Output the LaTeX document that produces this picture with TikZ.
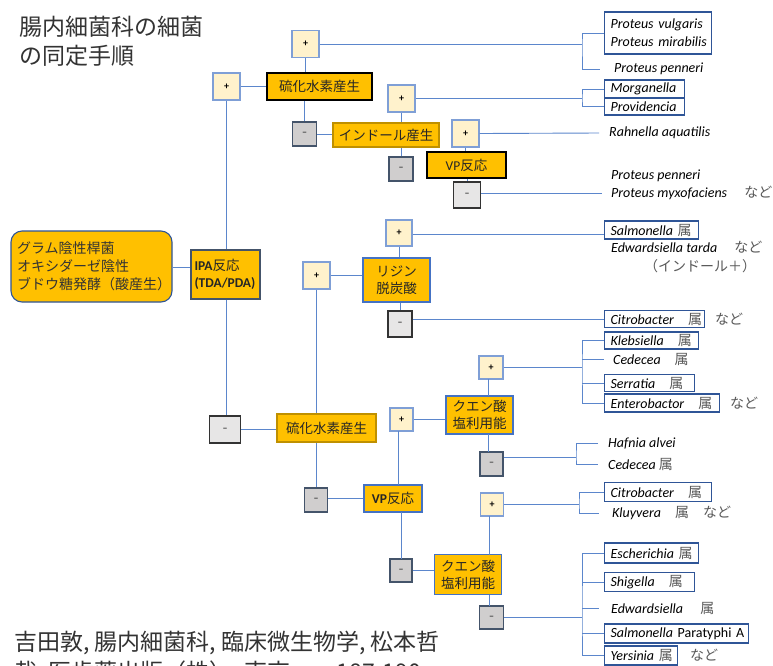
\documentclass[tikz,border=0pt]{standalone}
\usepackage{fontspec}
\setmainfont{Carlito}
\newfontfamily\jp{Noto Sans CJK JP}
\definecolor{gold}{HTML}{FFC000}
\definecolor{goldline}{HTML}{BF9000}
\definecolor{plusfill}{HTML}{FFF2CC}
\definecolor{plusborder}{HTML}{7F9FD6}
\definecolor{grayA}{HTML}{D0CECE}
\definecolor{grayB}{HTML}{E7E6E6}
\definecolor{slate}{HTML}{44546A}
\definecolor{lineblue}{HTML}{5B86CC}
\definecolor{boxblue}{HTML}{2F5597}
\definecolor{midblue}{HTML}{4472C4}
\definecolor{jpgray}{HTML}{595959}
\newcommand\JG[1]{{\upshape\jp\color{jpgray}#1}}
\tikzset{
  conn/.style={draw=lineblue, line width=0.9pt},
  gbox/.style={fill=gold, draw=#1, line width=1.1pt, inner sep=0pt, align=center,
    font=\jp\fontsize{13.5}{17}\selectfont, text=black!85},
  plusbox/.style={fill=plusfill, draw=plusborder, line width=1.1pt, minimum width=27pt,
    minimum height=27pt, inner sep=0pt, font=\bfseries\fontsize{10}{10}\selectfont},
  mboxA/.style={fill=grayA, draw=slate, line width=1.1pt, minimum width=24pt,
    minimum height=24pt, inner sep=0pt, font=\bfseries\fontsize{10}{10}\selectfont, text=black!75},
  mboxB/.style={fill=grayB, draw=black!80, line width=1.1pt, minimum width=27pt,
    minimum height=26pt, inner sep=0pt, font=\bfseries\fontsize{10}{10}\selectfont, text=black!75},
  sp/.style={anchor=west, inner xsep=0pt, inner ysep=0pt, align=left,
    font=\itshape\fontsize{14}{18}\selectfont, text=black},
  spb/.style={anchor=west, draw=boxblue, line width=1.1pt, inner xsep=6pt, inner ysep=0pt,
    align=left, font=\itshape\fontsize{14}{18}\selectfont, text=black},
}
\begin{document}
\begin{tikzpicture}[x=1pt,y=-1pt]
\useasboundingbox[fill=white] (0,0) rectangle (773,665);

% title
\node[anchor=north west, align=left, inner sep=0pt, font=\jp\fontsize{23}{29}\selectfont, text=black!80]
  (title) at (19,16) {腸内細菌科の細菌\\の同定手順};

% start and IPA
\node[fill=gold, draw=boxblue, line width=1.1pt, rounded corners=11pt, minimum width=161pt,
  minimum height=71pt, inner sep=0pt, text width=149pt, align=left,
  font=\jp\fontsize{14}{18}\selectfont, text=black!80] (start) at (91.5,266.5)
  {グラム陰性桿菌\\オキシダーゼ陰性\\\mbox{ブドウ糖発酵（酸産生）}};
\node[gbox=slate, line width=1.3pt, minimum width=69pt, minimum height=49pt, text width=62pt, align=left]
  (ipa) at (225.5,274.5) {{\rmfamily\bfseries IPA}反応\\{\rmfamily\bfseries (TDA/PDA)}};

% upper branch
\node[plusbox] (ptop) at (226.5,86.5) {+};
\node[gbox=black, line width=1.6pt, minimum width=105pt, minimum height=27pt] (hs1) at (319.5,86.5) {硫化水素産生};
\node[plusbox] (phs1) at (305.5,44) {+};
\node[mboxA] (mhs1) at (304.5,134) {–};
\node[gbox=goldline, minimum width=106pt, minimum height=24pt] (ind) at (386,135) {インドール産生};
\node[plusbox] (pind) at (401.5,98.5) {+};
\node[mboxA] (mind) at (401,169) {–};
\node[plusbox] (pvp1) at (465.5,133.5) {+};
\node[gbox=black, line width=1.5pt, minimum width=79pt, minimum height=26pt] (vp1) at (466.5,165) {{\rmfamily VP}反応};
\node[mboxB] (mvp1) at (467,195) {–};

% middle branch
\node[mboxB, minimum width=31pt, minimum height=27pt] (mipa) at (225,429.5) {–};
\node[gbox=goldline, minimum width=99pt, minimum height=28pt] (hs2) at (326.5,428) {硫化水素産生};
\node[plusbox] (pmid) at (316.5,275.5) {+};
\node[gbox=midblue, minimum width=67pt, minimum height=44pt] (lys) at (396.5,280) {リジン\\脱炭酸};
\node[plusbox, minimum width=26pt, minimum height=26pt] (plys) at (399,233) {+};
\node[mboxB, minimum width=24pt] (mlys) at (400,324) {–};

% lower branch
\node[mboxA, minimum width=23pt] (mhs2) at (316,500) {–};
\node[gbox=midblue, minimum width=58pt, minimum height=27pt] (vp2) at (393,498.5) {{\rmfamily\bfseries VP}反応};
\node[plusbox, minimum width=23pt, minimum height=23pt] (pvp2) at (401.5,419.5) {+};
\node[gbox=midblue, minimum width=67pt, minimum height=38pt] (cit1) at (479.5,415) {クエン酸\\塩利用能};
\node[plusbox, minimum width=24pt, minimum height=23pt] (pcit1) at (491,367.5) {+};
\node[mboxA, minimum width=23pt] (mcit1) at (491.5,464) {–};
\node[mboxA, minimum width=22pt, minimum height=23pt] (mvp2) at (401,570.5) {–};
\node[gbox=midblue, minimum width=67pt, minimum height=40pt] (cit2) at (468,574.5) {クエン酸\\塩利用能};
\node[plusbox, minimum width=23pt, minimum height=23pt] (pcit2) at (492,504.5) {+};
\node[mboxA, minimum width=24pt, minimum height=23pt] (mcit2) at (491.5,617.5) {–};

% species
\node[spb, minimum height=42pt, text width=95pt] (spv) at (604,33) {\mbox{Proteus vulgaris}\\\mbox{Proteus mirabilis}};
\node[sp] (spp1) at (614,69) {Proteus penneri};
\node[spb, minimum height=18pt, text width=68pt] (smorg) at (604,89) {\mbox{Morganella}};
\node[spb, minimum height=17pt, text width=68pt] (sprov) at (604,106.5) {\mbox{Providencia}};
\node[sp] (srah) at (609,133) {Rahnella aquatilis};
\node[sp] (spp2) at (611,184.5) {Proteus penneri\\Proteus myxofaciens\JG{　 など}};
\node[spb, minimum height=18pt, text width=82pt] (ssalm) at (604,230) {\mbox{Salmonella \JG{属}}};
\node[sp, font=\itshape\fontsize{14}{19}\selectfont] (sedw) at (611,256.5) {Edwardsiella tarda\JG{　 など}\\\hspace*{33pt}\JG{（インドール＋）}};
\node[spb, minimum height=17pt, text width=88pt] (scit1) at (604,319) {\mbox{Citrobacter\JG{　属}}};
\node[sp] (scit1e) at (715,319) {\JG{など}};
\node[spb, minimum height=17pt, text width=82pt] (skleb) at (604,340.5) {\mbox{Klebsiella\JG{　属}}};
\node[sp] (scede1) at (613,359) {Cedecea\JG{　属}};
\node[spb, minimum height=17pt, text width=78pt] (sserr) at (604,383) {\mbox{Serratia\JG{　属}}};
\node[spb, minimum height=18pt, text width=103pt] (sent) at (604,403) {\mbox{Enterobactor\JG{　属}}};
\node[sp] (sente) at (730,403) {\JG{など}};
\node[sp] (shaf) at (608,443) {Hafnia alvei};
\node[sp] (scede2) at (608,464) {Cedecea \JG{属}};
\node[spb, minimum height=19pt, text width=95pt] (scit2) at (604,492) {\mbox{Citrobacter\JG{　属}}};
\node[sp] (skluy) at (612,513) {Kluyvera\JG{　属　など}};
\node[spb, minimum height=20pt, text width=82pt] (sesch) at (604,553) {\mbox{Escherichia \JG{属}}};
\node[spb, minimum height=19pt, text width=78pt] (sshig) at (604,582) {\mbox{Shigella\JG{　属}}};
\node[sp] (sedw2) at (611,608) {Edwardsiella\JG{　 属}};
\node[spb, minimum height=19pt, text width=132pt] (ssalp) at (604,633.5) {\mbox{Salmonella {\upshape Paratyphi A}}};
\node[spb, minimum height=19pt, text width=61pt] (syers) at (604,655.5) {\mbox{Yersinia \JG{属}}};
\node[sp] (syerse) at (690,655) {\JG{など}};

% citation (cut by the lower edge, as in the reference)
\begin{scope}
\clip (0,600) rectangle (773,665);
\node[anchor=base west, inner sep=0pt, font=\jp\fontsize{23}{29}\selectfont, text=black!80]
  (cite1) at (14,650) {吉田敦, 腸内細菌科,  臨床微生物学, 松本哲};
\node[anchor=base west, inner sep=0pt, font=\jp\fontsize{23}{29}\selectfont, text=black!80]
  (cite2) at (14,680) {哉, 医歯薬出版（株）,  東京, pp.187-190};
\end{scope}

% bracket coordinates
\coordinate (b1) at (582,44);
\coordinate (b2) at (582,98.5);
\coordinate (b3) at (582,367.5);
\coordinate (b4) at (576,457);
\coordinate (b5) at (579,504.5);
\coordinate (b6) at (582,617.5);

% connectors
\draw[conn] (start.east |- 0,267) -- (ipa.west |- 0,267);
\draw[conn] (ptop.south) -- (ptop.south |- ipa.north);
\draw[conn] (ptop.south |- ipa.south) -- (ptop.south |- mipa.north);
\draw[conn] (ptop.east) -- (hs1.west);
\draw[conn] (phs1.south) -- (phs1.south |- hs1.north);
\draw[conn] (phs1.east) -- (b1);
\draw[conn] (spv.west) -| (b1) |- ([xshift=-14pt]spp1.west);
\draw[conn] (mhs1.north |- hs1.south) -- (mhs1.north);
\draw[conn] (mhs1.east) -- (ind.west |- mhs1.east);
\draw[conn] (pind.south) -- (pind.south |- ind.north);
\draw[conn] (pind.east) -- (b2);
\draw[conn] (smorg.west) -| (b2) |- (sprov.west);
\draw[conn] (mind.north |- ind.south) -- (mind.north);
\draw[conn] (pvp1.east) -- ([xshift=-10pt]srah.west);
\draw[conn] (pvp1.south) -- (pvp1.south |- vp1.north);
\draw[conn] (mvp1.north |- vp1.south) -- (mvp1.north);
\draw[conn] (mvp1.east |- 0,193) -- ([xshift=-9pt]spp2.west |- 0,193);
\draw[conn] (mipa.east) -- (hs2.west |- mipa.east);
\draw[conn] (pmid.south) -- (pmid.south |- hs2.north);
\draw[conn] (pmid.east) -- (lys.west |- pmid.east);
\draw[conn] (plys.south) -- (plys.south |- lys.north);
\draw[conn] (plys.east |- 0,234) -- (ssalm.west |- 0,234);
\draw[conn] (mlys.north |- lys.south) -- (mlys.north);
\draw[conn] (mlys.east |- 0,319) -- (scit1.west);
\draw[conn] (mhs2.north |- hs2.south) -- (mhs2.north);
\draw[conn] (mhs2.east |- 0,498) -- (vp2.west |- 0,498);
\draw[conn] (398,485) -- (398,431);
\draw[conn] (pvp2.east) -- (cit1.west |- pvp2.east);
\draw[conn] (488,379) -- (488,396);
\draw[conn] (pcit1.east) -- (b3);
\draw[conn] (skleb.west) -| (b3) |- (sent.west);
\draw[conn] (b3 |- scede1.west) -- ([xshift=-9pt]scede1.west);
\draw[conn] (b3 |- sserr.west) -- (sserr.west);
\draw[conn] (488,434) -- (488,452);
\draw[conn] (mcit1.east |- b4) -- (b4);
\draw[conn] ([xshift=-10pt]shaf.west) -| (b4) |- ([xshift=-10pt]scede2.west);
\draw[conn] (401,512) -- (401,559);
\draw[conn] (mvp2.east) -- (cit2.west |- mvp2.east);
\draw[conn] (489,516) -- (489,554.5);
\draw[conn] (pcit2.east) -- (b5);
\draw[conn] (scit2.west) -| (b5) |- ([xshift=-13pt]skluy.west);
\draw[conn] (489,594.5) -- (489,606);
\draw[conn] (mcit2.east) -- (b6);
\draw[conn] (sesch.west) -| (b6) |- (syers.west);
\draw[conn] (b6 |- sshig.west) -- (sshig.west);
\draw[conn] (b6 |- sedw2.west) -- ([xshift=-12pt]sedw2.west);
\draw[conn] (b6 |- ssalp.west) -- (ssalp.west);
\end{tikzpicture}
\end{document}
